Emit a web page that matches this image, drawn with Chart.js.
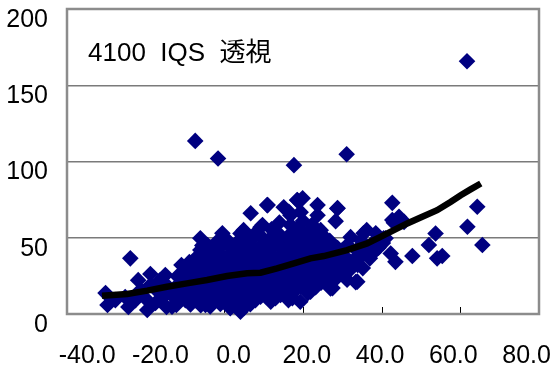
<!DOCTYPE html>
<html>
<head>
<meta charset="utf-8">
<script src="https://cdn.jsdelivr.net/npm/chart.js@4.4.1/dist/chart.umd.min.js"></script>
<style>
  body { margin: 0; background: #fff; }
  canvas { display: block; }
</style>
</head>
<body>
<canvas id="myChart" width="559" height="370"></canvas>
<script>
// chart values
const chartTitle = '4100  IQS  透視';
const xTicks = [-40, -20, 0, 20, 40, 60, 80];
const yTicks = [0, 50, 100, 150, 200];

// scatter samples [x, y]
const samples = [
  [-30.2,13.7],[-29.7,5.9],[-27.7,9.1],[-25.2,11.1],[-24.4,4.6],
  [-22.6,9.1],[-21.3,15.7],[-21.9,22.2],
  [-19.6,2.6],[-20.1,10.4],[-18.8,19.0],[-18.8,26.2],
  [-17.5,7.2],[-16.8,14.4],[-16.3,22.2],
  [-14.7,4.6],[-15.5,11.1],[-14.2,17.6],[-15.0,25.5],
  [-12.9,11.1],[-12.4,17.6],[-11.7,24.2],[-12.2,5.9],[-10.9,32.1],
  [-9.9,9.1],[-9.9,15.7],[-9.4,22.2],[-9.9,28.8],[-8.9,34.0],
  [-7.3,9.1],[-7.1,15.7],[-7.9,22.2],[-6.6,28.8],[-7.3,36.6],[-6.1,41.9],[-6.1,49.7],
  [-4.8,5.9],[-4.5,12.4],[-5.1,19.0],[-4.0,25.5],[-4.5,32.1],[-3.5,38.6],[-4.3,45.2],
  [-3.0,8.5],[-2.3,14.4],[-1.7,20.9],[-2.5,27.5],[-2.0,34.0],[-1.5,40.6],[-1.5,48.4],[-0.5,53.0],
  [0.3,10.4],[0.5,17.0],[0.0,23.5],[1.1,30.1],[0.5,36.6],[1.6,43.2],[0.8,48.4],
  [2.8,7.2],[3.1,14.4],[2.6,20.3],[3.3,26.8],[2.8,33.4],[3.6,39.9],[2.8,45.2],[4.9,55.0],
  [4.9,3.9],[5.4,11.1],[5.6,17.6],[5.1,23.5],[6.1,30.1],[5.4,36.6],[6.1,45.2],[5.4,53.0],[6.7,66.1],
  [7.9,9.1],[8.4,15.7],[7.7,21.6],[8.2,28.1],[8.7,34.7],[7.9,41.9],[7.9,53.0],[9.2,56.9],
  [10.5,13.7],[10.7,20.3],[10.2,26.8],[11.0,33.4],[10.2,40.6],[11.2,48.4],[11.0,71.4],[9.7,58.3],
  [13.0,10.4],[13.3,17.0],[12.8,23.5],[13.5,30.1],[13.0,36.6],[12.5,46.5],[13.0,53.0],[15.1,70.0],
  [16.3,9.1],[15.6,15.7],[15.8,22.2],[15.3,28.8],[16.1,35.3],[15.6,41.9],[16.1,49.7],[16.8,64.8],[16.8,58.3],
  [17.3,10.4],[18.1,15.7],[18.4,22.2],[17.9,28.8],[18.6,35.3],[18.1,41.9],[18.9,48.4],[18.9,56.9],[18.6,74.6],[19.9,75.9],
  [21.2,13.7],[20.7,20.3],[20.9,26.8],[20.4,33.4],[21.2,39.9],[20.7,46.5],[21.4,53.7],[19.4,66.8],
  [24.0,24.2],[23.2,17.6],[23.5,30.1],[22.9,36.6],[23.7,43.2],[23.5,49.7],[23.7,64.8],[23.7,71.4],
  [26.3,25.5],[25.7,32.1],[26.0,38.6],[25.5,45.2],[25.0,51.7],[24.5,55.0],
  [27.5,17.0],[28.5,23.5],[28.3,30.1],[27.8,36.6],[28.8,43.2],[28.3,60.9],[28.8,69.4],
  [30.8,32.1],[30.3,38.6],[31.3,45.2],[32.1,50.4],
  [33.4,20.9],[33.9,32.1],[32.9,35.3],[33.6,41.9],[34.7,48.4],
  [35.2,30.1],[36.4,41.9],[36.2,55.0],[35.4,53.0],
  [38.5,53.0],[37.7,46.5],[40.3,46.5],[40.5,49.7],
  [61.7,165.7],[-7.4,113.5],[-1.6,102.0],[17.7,97.6],[31.1,104.8],[-23.9,36.5],
  [10.9,71.4],[18.5,74.7],[4.1,52.8],[28.7,69.2],[42.7,72.9],[44.4,63.7],[45.7,60.4],
  [64.3,70.3],[61.8,57.2],[65.6,45.2],[53.7,52.8],[52.0,45.2],[54.1,36.5],[55.4,38.0],
  [47.8,38.0],[42.3,39.7],[43.5,34.2],[36.3,43.0],[33.8,21.2],[27.0,16.8],[16.4,10.3],
  [32.1,34.2],[21.9,14.6],[43.1,59.8],[41.0,49.6],[16.4,67.0],[42.7,61.6],
  [4.6,4.8],[-13.3,4.8],[4.1,1.5],
  // dense core
  [-11.2,12.6],[-11.0,19.3],[-11.4,26.0],
  [-8.6,6.2],[-8.4,12.8],[-8.8,19.0],[-8.5,25.6],[-8.3,31.5],
  [-6.0,5.8],[-6.2,12.5],[-5.9,19.1],[-6.3,25.4],[-6.0,32.2],[-5.8,38.8],[-5.6,45.0],
  [-3.6,5.0],[-3.4,11.7],[-3.7,18.0],[-3.3,24.3],[-3.5,30.9],[-3.2,37.2],[-3.6,43.5],
  [-1.0,6.6],[-0.8,12.9],[-1.2,19.2],[-0.9,25.6],[-1.1,31.9],[-0.7,38.3],[-1.0,44.6],
  [1.5,3.8],[1.7,12.3],[1.4,18.7],[1.8,25.0],[1.6,31.6],[1.9,38.0],[1.4,45.8],
  [4.0,7.6],[4.2,14.0],[4.3,20.3],[3.9,26.7],[4.2,33.0],[4.4,42.5],[4.0,48.8],
  [6.6,6.4],[6.8,13.0],[6.5,19.4],[6.7,25.9],[6.9,32.3],[6.5,38.9],[6.8,48.5],
  [9.2,11.3],[9.0,17.8],[9.4,24.2],[9.1,31.0],[9.3,37.5],[9.0,44.0],[9.5,50.5],
  [11.8,8.0],[11.6,15.0],[11.9,21.5],[11.6,28.4],[11.8,35.0],[11.5,41.5],[12.0,55.5],
  [14.3,12.5],[14.5,19.5],[14.2,25.9],[14.4,32.5],[14.6,39.0],[14.1,44.5],[14.5,51.0],[14.0,60.0],
  [16.9,12.6],[16.7,18.8],[17.0,25.5],[16.8,32.0],[17.1,38.6],[16.9,45.5],[17.2,53.5],
  [19.3,8.0],[19.5,18.0],[19.2,24.6],[19.6,31.1],[19.3,37.6],[19.5,44.5],[19.8,51.5],[20.0,61.0],
  [22.0,17.0],[21.8,23.5],[22.1,30.0],[21.8,36.5],[22.2,43.0],[22.0,49.8],[22.3,58.5],
  [24.6,20.5],[24.4,27.0],[24.7,33.5],[24.5,40.0],[24.8,47.5],
  [27.1,21.0],[26.9,28.0],[27.2,34.5],[27.0,41.0],[26.8,48.0],
  [29.6,26.5],[29.4,35.0],[29.8,41.5],[31.6,28.0],[31.2,22.5],
  [38.0,40.5],[39.2,43.5],[34.5,37.0],[37.0,36.5]
];

// trend line
const trendX = [-31.1,-24.7,-19.6,-14.6,-9.5,-4.4,0.7,5.8,9.2,13.4,17.7,21.9,25.3,31.2,36.3,39.7,43.1,46.5,49.9,54.1,57.5,60.1,62.6,65.2];
const trendY = [12.0,13.1,15.3,17.9,20.1,22.3,24.9,26.7,27.1,29.9,33.2,36.5,38.0,41.9,46.3,50.6,55.0,59.4,63.3,68.1,73.5,77.9,81.7,85.6];

const FONT = "'Liberation Sans', Arial, 'Noto Sans CJK JP', sans-serif";

// frame, inner x ticks and the title inside the plot
var framePlugin = {
  id: 'frame',
  beforeDatasetsDraw: function(chart) {
    var a = chart.chartArea, ctx = chart.ctx, xs = chart.scales.x;
    ctx.save();
    ctx.strokeStyle = '#000';
    ctx.lineWidth = 1;
    xTicks.forEach(function(v) {
      var px = Math.round(xs.getPixelForValue(v)) + 0.5;
      ctx.beginPath();
      ctx.moveTo(px, a.bottom);
      ctx.lineTo(px, a.bottom - 7);
      ctx.stroke();
    });
    ctx.strokeStyle = '#8c8c8c';
    ctx.lineWidth = 2.5;
    ctx.strokeRect(a.left, a.top, a.right - a.left, a.bottom - a.top);
    ctx.fillStyle = '#000';
    ctx.font = '26px ' + FONT;
    ctx.textBaseline = 'middle';
    ctx.fillText(chartTitle, a.left + 21, a.top + 45);
    ctx.restore();
  }
};

var setTicks = function(list) {
  return function(scale) { scale.ticks = list.map(function(v) { return {value: v}; }); };
};

var ctx = document.getElementById('myChart').getContext('2d');
var myChart = new Chart(ctx, {
  type: 'scatter',
  data: {
    datasets: [{
      type: 'line',
      data: trendX.map(function(x, i) { return {x: x, y: trendY[i]}; }),
      borderColor: '#000',
      borderWidth: 6.5,
      pointRadius: 0,
      tension: 0,
      fill: false,
      order: 0,
      xAxisID: 'x', yAxisID: 'y'
    }, {
      data: samples.map(function(p) { return {x: p[0], y: p[1]}; }),
      pointStyle: 'rectRot',
      pointRadius: 8.3,
      backgroundColor: '#000080',
      borderColor: '#000080',
      borderWidth: 0,
      order: 1,
      clip: false,
      xAxisID: 'x', yAxisID: 'y'
    }]
  },
  options: {
    responsive: false,
    animation: false,
    events: [],
    layout: { padding: { top: 9, right: 20, bottom: 0, left: 0 } },
    plugins: { legend: { display: false }, tooltip: { enabled: false } },
    scales: {
      x: {
        type: 'linear', position: 'bottom', min: -40, max: 80,
        afterBuildTicks: setTicks(xTicks),
        afterFit: function(s) { s.height = 0; s.paddingLeft = 0; s.paddingRight = 0; },
        grid: { display: false, drawTicks: false },
        border: { display: false },
        ticks: { display: false }
      },
      xLabels: {
        type: 'linear', position: 'bottom', min: -45.5, max: 83.4,
        afterBuildTicks: setTicks(xTicks),
        afterFit: function(s) { s.height = 56; s.paddingLeft = 0; s.paddingRight = 0; },
        grid: { display: false, drawTicks: false },
        border: { display: false },
        ticks: {
          color: '#000', padding: 27, maxRotation: 0, autoSkip: false,
          font: { family: FONT, size: 25 },
          callback: function(v) { return v.toFixed(1); }
        }
      },
      y: {
        min: 0, max: 200,
        afterBuildTicks: setTicks(yTicks),
        afterFit: function(s) { s.width = 67; s.paddingTop = 0; s.paddingBottom = 0; },
        grid: {
          drawTicks: false, lineWidth: 1.5,
          color: function(c) { return (c.tick.value === 0 || c.tick.value === 200) ? 'rgba(0,0,0,0)' : '#7a7a7a'; }
        },
        border: { display: false },
        ticks: { color: '#000', padding: 19, labelOffset: 11, font: { family: FONT, size: 25 } }
      }
    }
  },
  plugins: [framePlugin]
});
</script>
</body>
</html>
